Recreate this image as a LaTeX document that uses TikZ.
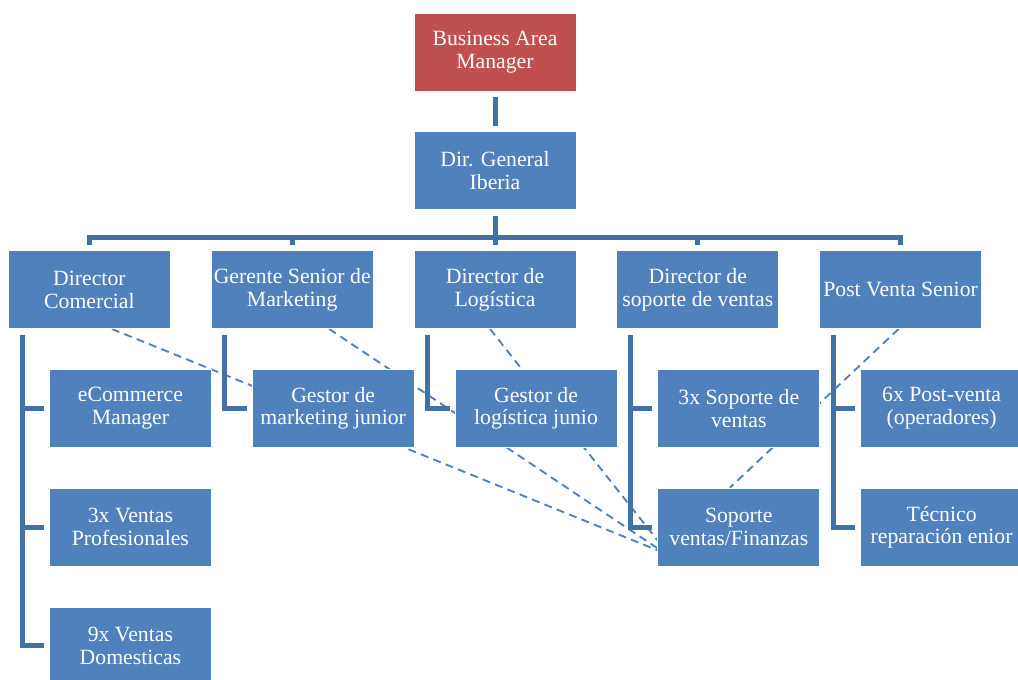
\documentclass[tikz,border=0pt]{standalone}
\usepackage{fontspec}
\setmainfont{Liberation Serif}
\usetikzlibrary{positioning,backgrounds}
\definecolor{boxblue}{RGB}{79,129,189}
\definecolor{boxred}{RGB}{192,80,77}
\definecolor{linkblue}{RGB}{65,113,165}

\begin{document}
\begin{tikzpicture}[
  node distance=30pt and 30pt,
  box/.style={fill=boxblue, draw=white, line width=0.6pt, text=white, align=center, font=\fontsize{16.3}{17}\selectfont, minimum width=121.5pt, minimum height=58.5pt, inner sep=1pt},
  topbox/.style={box, fill=boxred},
  link/.style={draw=linkblue, line width=3.75pt, shorten <=4.5pt, shorten >=3.75pt},
  dotlink/.style={draw=boxblue, line width=1.4pt, dash pattern=on 6pt off 4pt}
]
  \useasboundingbox (0,0) rectangle (763.5pt,-510pt);

  % top of the chart
  \node[topbox] (bam) at (371.25pt,-39pt) {Business Area \\ Manager};
  \node[box, below=of bam] (dg) {Dir. General \\ Iberia};
  \draw[link] (bam) -- (dg);

  % directors row
  \node[box, below=of dg] (dlog) {Director de \\ Logística};
  \node[box, left=of dlog] (dmkt) {Gerente Senior de \\ Marketing};
  \node[box, left=of dmkt] (dcom) {Director \\ Comercial};
  \node[box, right=of dlog] (dsop) {Director de \\ soporte de ventas};
  \node[box, right=of dsop] (dpv) {Post Venta Senior};
  \foreach \d in {dcom,dmkt,dlog,dsop,dpv}
    \draw[link] (dg.south) -- ++(0,-20.25pt) -| (\d.north);

  % staff under each director
  \node[box, below=of dcom, xshift=30.75pt] (ecom) {eCommerce \\ Manager};
  \node[box, below=of ecom] (vprof) {3x Ventas \\ Profesionales};
  \node[box, below=of vprof] (vdom) {9x Ventas \\ Domesticas};
  \node[box, below=of dmkt, xshift=30.75pt] (gmkt) {Gestor de \\ marketing junior};
  \node[box, below=of dlog, xshift=30.75pt] (glog) {Gestor de \\ logística junio};
  \node[box, below=of dsop, xshift=30.75pt] (sopv) {3x Soporte de \\ ventas};
  \node[box, below=of sopv] (sopfin) {Soporte \\ ventas/Finanzas};
  \node[box, below=of dpv, xshift=30.75pt] (postv) {6x Post-venta \\ (operadores)};
  \node[box, below=of postv] (tecrep) {Técnico \\ reparación enior};

  \draw[link] ([xshift=10.5pt]dcom.south west) |- (ecom.west);
  \draw[link] ([xshift=10.5pt]dcom.south west) |- (vprof.west);
  \draw[link] ([xshift=10.5pt]dcom.south west) |- (vdom.west);
  \draw[link] ([xshift=10.5pt]dmkt.south west) |- (gmkt.west);
  \draw[link] ([xshift=10.5pt]dlog.south west) |- (glog.west);
  \draw[link] ([xshift=10.5pt]dsop.south west) |- (sopv.west);
  \draw[link] ([xshift=10.5pt]dsop.south west) |- (sopfin.west);
  \draw[link] ([xshift=10.5pt]dpv.south west) |- (postv.west);
  \draw[link] ([xshift=10.5pt]dpv.south west) |- (tecrep.west);

  % dashed reporting lines to finance support
  \begin{scope}[on background layer]
    \draw[dotlink] ([xshift=16.9pt]dcom.south) -- ([yshift=-17.25pt]sopfin.west);
    \draw[dotlink] ([xshift=27.75pt]dmkt.south) -- ([yshift=-15.75pt]sopfin.west);
    \draw[dotlink] ([xshift=-3.75pt]dlog.south) -- ([yshift=-9.75pt]sopfin.west);
    \draw[dotlink] ([xshift=-1.5pt]dpv.south) -- ([xshift=-6.75pt]sopfin.north);
  \end{scope}
\end{tikzpicture}
\end{document}
